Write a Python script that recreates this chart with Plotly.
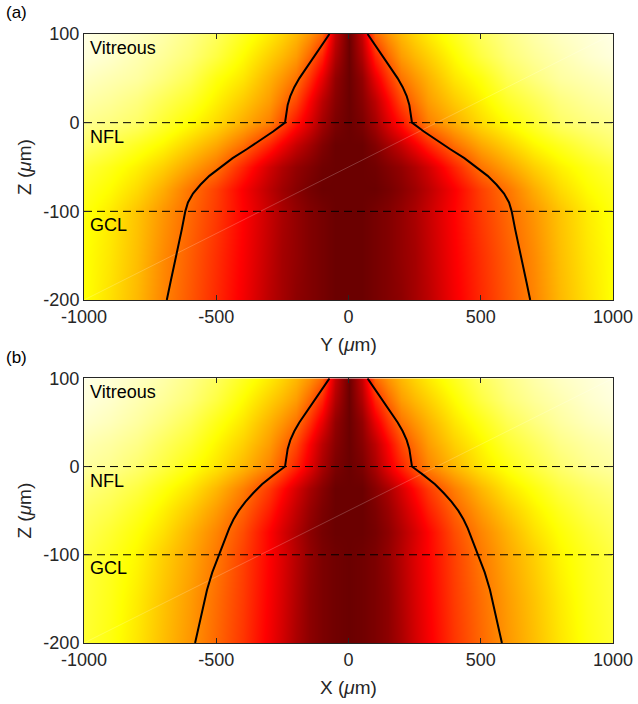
import plotly.graph_objects as go

# ---------------- data ----------------
# half-profile x positions (um); field is mirrored about x = 0
x_half = [0, 50, 100, 150, 200, 250, 300, 400, 500, 600, 700, 800, 900, 1000]
z_rows = [100, 75, 50, 25, 0, -25, -50, -75, -100, -150, -200]

# normalised colour level (0 = white ... 1 = darkest red), panel (a), rows follow z_rows
level_a = [
    [1.00, 0.84, 0.56, 0.48, 0.42, 0.37, 0.33, 0.26, 0.19, 0.14, 0.10, 0.07, 0.05, 0.03],
    [1.00, 0.88, 0.68, 0.56, 0.47, 0.42, 0.38, 0.30, 0.22, 0.16, 0.12, 0.09, 0.06, 0.04],
    [1.00, 0.93, 0.78, 0.65, 0.54, 0.48, 0.43, 0.34, 0.28, 0.20, 0.15, 0.11, 0.09, 0.07],
    [1.00, 0.95, 0.86, 0.74, 0.62, 0.54, 0.47, 0.39, 0.32, 0.25, 0.20, 0.15, 0.12, 0.10],
    [1.00, 0.97, 0.90, 0.80, 0.71, 0.61, 0.52, 0.44, 0.36, 0.30, 0.24, 0.18, 0.15, 0.13],
    [1.00, 1.00, 0.96, 0.90, 0.84, 0.76, 0.68, 0.55, 0.45, 0.38, 0.31, 0.26, 0.21, 0.17],
    [1.00, 1.00, 0.99, 0.96, 0.93, 0.88, 0.82, 0.68, 0.54, 0.46, 0.38, 0.32, 0.27, 0.23],
    [1.00, 1.00, 1.00, 0.98, 0.95, 0.91, 0.86, 0.75, 0.63, 0.54, 0.44, 0.36, 0.30, 0.26],
    [1.00, 1.00, 0.98, 0.96, 0.93, 0.89, 0.84, 0.74, 0.64, 0.56, 0.48, 0.40, 0.33, 0.28],
    [1.00, 1.00, 0.98, 0.96, 0.93, 0.90, 0.85, 0.75, 0.66, 0.58, 0.50, 0.41, 0.34, 0.29],
    [1.00, 1.00, 0.98, 0.96, 0.94, 0.90, 0.86, 0.76, 0.67, 0.59, 0.51, 0.42, 0.35, 0.29],
]
level_b = [
    [1.00, 0.84, 0.56, 0.48, 0.42, 0.37, 0.33, 0.26, 0.19, 0.14, 0.10, 0.07, 0.05, 0.03],
    [1.00, 0.88, 0.68, 0.56, 0.47, 0.42, 0.38, 0.30, 0.22, 0.16, 0.12, 0.09, 0.06, 0.04],
    [1.00, 0.93, 0.78, 0.65, 0.54, 0.48, 0.43, 0.34, 0.27, 0.20, 0.15, 0.11, 0.08, 0.06],
    [1.00, 0.95, 0.86, 0.74, 0.62, 0.54, 0.47, 0.38, 0.31, 0.24, 0.19, 0.14, 0.11, 0.09],
    [1.00, 0.97, 0.89, 0.78, 0.68, 0.59, 0.51, 0.42, 0.34, 0.28, 0.22, 0.17, 0.13, 0.11],
    [1.00, 1.00, 0.95, 0.89, 0.81, 0.72, 0.64, 0.52, 0.42, 0.34, 0.28, 0.22, 0.18, 0.15],
    [1.00, 1.00, 0.97, 0.92, 0.85, 0.77, 0.69, 0.57, 0.47, 0.39, 0.32, 0.26, 0.21, 0.18],
    [1.00, 1.00, 0.98, 0.94, 0.88, 0.81, 0.74, 0.61, 0.51, 0.43, 0.35, 0.29, 0.24, 0.20],
    [1.00, 0.99, 0.97, 0.93, 0.87, 0.80, 0.74, 0.63, 0.53, 0.45, 0.38, 0.31, 0.26, 0.22],
    [1.00, 0.99, 0.97, 0.94, 0.88, 0.81, 0.75, 0.64, 0.55, 0.47, 0.40, 0.33, 0.27, 0.23],
    [1.00, 0.99, 0.97, 0.94, 0.89, 0.82, 0.76, 0.65, 0.56, 0.48, 0.41, 0.34, 0.28, 0.24],
]

# black boundary curve: depth z and half-width (um)
curve_z = [100, 90, 80, 70, 60, 50, 40, 30, 20, 10, 0, -10, -20, -30, -40, -50,
           -60, -70, -80, -90, -100, -120, -140, -160, -180, -200]
curve_w_a = [72, 95, 116, 138, 163, 186, 205, 220, 230, 236, 240, 285, 333, 385, 438, 484,
             526, 560, 588, 607, 617, 630, 645, 660, 673, 687]
curve_w_b = [72, 95, 116, 138, 163, 186, 205, 220, 230, 236, 240, 285, 327, 360, 390, 415,
             435, 451, 464, 478, 492, 515, 535, 550, 566, 580]

layer_names = ["Vitreous", "NFL", "GCL"]
layer_label_z = [84, -16, -115]
boundary_z = [0, -100]
x_ticks = [-1000, -500, 0, 500, 1000]
x_tick_text = ["-1000", "-500", "0", "500", "1000"]
z_ticks = [-200, -100, 0, 100]
z_tick_text = ["-200", "-100", "0", "100"]
panel_tags = ["(a)", "(b)"]
x_titles = ["Y (<i>μ</i>m)", "X (<i>μ</i>m)"]

# ---------------- figure ----------------
x_full = [-v for v in x_half[::-1]] + x_half[1:]


def mirror(rows):
    return [r[::-1] + r[1:] for r in rows]


colorscale = [[0.0, "#ffffff"], [0.2967, "#ffff00"], [0.7418, "#ff0000"], [1.0, "#6b0000"]]
ink = "#262626"
font_family = "Liberation Sans, Arial, sans-serif"

fig = go.Figure()
panels = [(level_a, curve_w_a, "x", "y"), (level_b, curve_w_b, "x2", "y2")]
for levels, widths, xa, ya in panels:
    fig.add_trace(go.Heatmap(
        x=x_full, y=z_rows, z=mirror(levels), zmin=0, zmax=1,
        colorscale=colorscale, showscale=False, zsmooth="best",
        xaxis=xa, yaxis=ya, hoverinfo="skip"))
    # faint rendering diagonal
    fig.add_trace(go.Scatter(
        x=[-1000, 1000], y=[-200, 100], mode="lines",
        line=dict(color="rgba(255,255,255,0.35)", width=0.6),
        xaxis=xa, yaxis=ya, showlegend=False, hoverinfo="skip"))
    for zb in boundary_z:
        fig.add_trace(go.Scatter(
            x=[-1000, 1000], y=[zb, zb], mode="lines",
            line=dict(color="black", width=1, dash="8px,5px"),
            xaxis=xa, yaxis=ya, showlegend=False, hoverinfo="skip"))
    fig.add_trace(go.Scatter(
        x=[-w for w in widths], y=curve_z, mode="lines",
        line=dict(color="black", width=2), xaxis=xa, yaxis=ya,
        showlegend=False, hoverinfo="skip"))
    fig.add_trace(go.Scatter(
        x=widths, y=curve_z, mode="lines",
        line=dict(color="black", width=2), xaxis=xa, yaxis=ya,
        showlegend=False, hoverinfo="skip"))
    for name, zl in zip(layer_names, layer_label_z):
        fig.add_annotation(
            x=-985, y=zl, xref=xa, yref=ya, text=name, showarrow=False,
            xanchor="left", yanchor="middle",
            font=dict(size=18, color="black", family=font_family))

axis_common = dict(
    showline=True, linecolor=ink, linewidth=1, mirror="ticks", ticks="inside",
    ticklen=5, tickcolor=ink, tickwidth=1, showgrid=False, zeroline=False,
    automargin=False,
    tickfont=dict(size=18, color=ink, family=font_family),
)
title_font = dict(size=19, color=ink, family=font_family)

fig.update_layout(
    width=638, height=704,
    margin=dict(l=84, r=25, t=34, b=61, autoexpand=False),
    paper_bgcolor="white", plot_bgcolor="white",
    showlegend=False,
    xaxis=dict(axis_common, range=[-1000, 1000], tickvals=x_ticks, ticktext=x_tick_text,
               anchor="y", title=dict(text=x_titles[0], standoff=12, font=title_font)),
    yaxis=dict(axis_common, range=[-200, 100], tickvals=z_ticks, ticktext=z_tick_text,
               anchor="x", domain=[0.5632, 1.0],
               title=dict(text="Z (<i>μ</i>m)", standoff=6, font=title_font)),
    xaxis2=dict(axis_common, range=[-1000, 1000], tickvals=x_ticks, ticktext=x_tick_text,
                anchor="y2", title=dict(text=x_titles[1], standoff=12, font=title_font)),
    yaxis2=dict(axis_common, range=[-200, 100], tickvals=z_ticks, ticktext=z_tick_text,
                anchor="x2", domain=[0.0, 0.4346],
                title=dict(text="Z (<i>μ</i>m)", standoff=6, font=title_font)),
)

# panel tags placed in pixel terms relative to the plot area (84..613 x, 34..643 y)
for tag, ypix in zip(panel_tags, [13, 357]):
    fig.add_annotation(
        x=(4 - 84) / 529, y=(643 - ypix) / 609, xref="paper", yref="paper",
        text=tag, showarrow=False, xanchor="left", yanchor="middle",
        font=dict(size=17, color="black", family=font_family))

fig.write_html("out.html")
